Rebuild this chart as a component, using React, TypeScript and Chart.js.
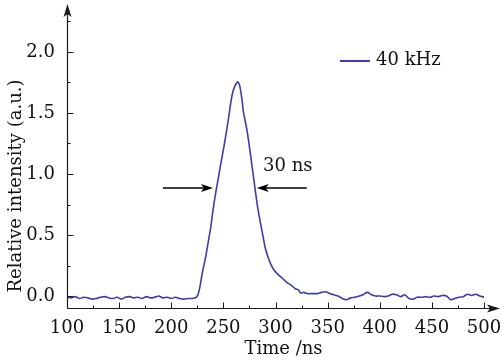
import React, { useEffect, useRef } from "react";
import { Chart, registerables } from "chart.js";

Chart.register(...registerables);

// ---------- data ----------
const timeNs: number[] = [
  100, 104, 108, 112, 116, 120, 124, 128, 132, 136, 140, 144, 148, 152, 156, 160,
  164, 168, 172, 176, 180, 184, 188, 192, 196, 200, 204, 208, 212, 216, 220,
  224, 226, 228, 230, 233, 236, 238, 240, 242.5, 245, 247, 250, 252, 255, 257,
  259, 261, 263, 264, 265, 266, 268, 269, 271, 273, 276, 278, 281, 283, 285.5,
  288, 290, 292, 295, 298, 302, 306, 311, 315, 319, 322, 324, 327, 331, 336,
  340, 344, 348, 352, 356, 360, 364, 368, 372, 376, 380, 384, 388, 392, 396,
  400, 404, 408, 412, 416, 420, 424, 428, 432, 436, 440, 444, 448, 452, 456,
  460, 464, 468, 472, 476, 480, 484, 488, 492, 496, 500,
];
const intensity: number[] = [
  -0.01, -0.015, -0.005, -0.02, -0.01, -0.015, -0.025, -0.02, -0.01, -0.005, -0.015, -0.02, -0.01, -0.025, -0.01, -0.005,
  -0.015, -0.01, -0.02, -0.005, -0.015, -0.01, 0.0, -0.015, -0.01, -0.02, -0.01, -0.02, -0.025, -0.02, -0.02,
  -0.01, 0.02, 0.1, 0.2, 0.32, 0.47, 0.57, 0.7, 0.84, 0.96, 1.06, 1.2, 1.3, 1.46, 1.58,
  1.67, 1.72, 1.75, 1.755, 1.74, 1.71, 1.6, 1.52, 1.43, 1.34, 1.16, 1.03, 0.84, 0.72, 0.6,
  0.49, 0.4, 0.34, 0.27, 0.22, 0.18, 0.15, 0.11, 0.09, 0.06, 0.05, 0.025, 0.03, 0.02, 0.02,
  0.02, 0.03, 0.035, 0.02, 0.01, 0.0, -0.02, -0.03, -0.015, -0.01, 0.0, 0.01, 0.03, 0.01, 0.0,
  0.0, -0.005, 0.0, 0.015, 0.01, -0.005, 0.01, -0.02, -0.025, -0.01, -0.01, -0.005, -0.01, 0.0, -0.005,
  0.005, 0.0, -0.03, -0.02, -0.01, -0.005, 0.015, 0.005, 0.015, 0.0, -0.01,
];
const seriesLabel = "40 kHz";

const xTickValues = [100, 150, 200, 250, 300, 350, 400, 450, 500];
const xMinorTicks = [125, 175, 225, 275, 325, 375, 425, 475];
const yTickValues = [0, 0.5, 1.0, 1.5, 2.0];
const yMinorTicks = [0.25, 0.75, 1.25, 1.75, 2.25];
const xRange = [100, 515.3];
const yRange = [-0.098, 2.393];

const xTitle = "Time /ns";
const yTitle = "Relative intensity (a.u.)";

// FWHM annotation (data coordinates)
const fwhmText = "30 ns";
const fwhmLevel = 0.885;
const fwhmLeftArrow = [192, 240];
const fwhmRightArrow = [330, 282];
const fwhmTextPos = [288, 1.06];

// ---------- styles ----------
const FONT = "DejaVu Serif";
const FONT_SIZE = 18;
const LINE_COLOR = "#3a3db4";
const AXIS_COLOR = "#1a1a1a";
const TEXT_COLOR = "#111111";

function arrowHead(ctx: CanvasRenderingContext2D, tipX: number, tipY: number, dirX: number, dirY: number, len: number, half: number, notch: number) {
  const px = -dirY;
  const py = dirX;
  const bx = tipX - dirX * len;
  const by = tipY - dirY * len;
  const nx = tipX - dirX * (len - notch);
  const ny = tipY - dirY * (len - notch);
  ctx.beginPath();
  ctx.moveTo(tipX, tipY);
  ctx.lineTo(bx + px * half, by + py * half);
  ctx.lineTo(nx, ny);
  ctx.lineTo(bx - px * half, by - py * half);
  ctx.closePath();
  ctx.fill();
}

const decorPlugin = {
  id: "decor",
  afterDraw(chart: any) {
    const ctx: CanvasRenderingContext2D = chart.ctx;
    const xs = chart.scales.x;
    const ys = chart.scales.y;
    const area = chart.chartArea;
    const x0 = Math.round(area.left) + 0.5;
    const y0 = Math.round(area.bottom) + 0.5;
    ctx.save();
    // axes lines
    ctx.strokeStyle = AXIS_COLOR;
    ctx.fillStyle = AXIS_COLOR;
    ctx.lineWidth = 1.2;
    ctx.beginPath();
    ctx.moveTo(x0, y0);
    ctx.lineTo(area.right - 6, y0);
    ctx.moveTo(x0, y0);
    ctx.lineTo(x0, area.top + 6);
    ctx.stroke();
    arrowHead(ctx, area.right, y0, 1, 0, 13, 4, 3);
    arrowHead(ctx, x0, area.top, 0, -1, 13, 4, 3);
    // ticks (inward)
    ctx.lineWidth = 1;
    ctx.beginPath();
    xTickValues.forEach((v) => {
      const px = Math.round(xs.getPixelForValue(v)) + 0.5;
      ctx.moveTo(px, y0);
      ctx.lineTo(px, y0 - 6);
    });
    xMinorTicks.forEach((v) => {
      const px = Math.round(xs.getPixelForValue(v)) + 0.5;
      ctx.moveTo(px, y0);
      ctx.lineTo(px, y0 - 3);
    });
    yTickValues.forEach((v) => {
      const py = Math.round(ys.getPixelForValue(v)) + 0.5;
      ctx.moveTo(x0, py);
      ctx.lineTo(x0 + 6, py);
    });
    yMinorTicks.forEach((v) => {
      const py = Math.round(ys.getPixelForValue(v)) + 0.5;
      ctx.moveTo(x0, py);
      ctx.lineTo(x0 + 3, py);
    });
    ctx.stroke();

    // y title
    ctx.fillStyle = TEXT_COLOR;
    ctx.font = `${FONT_SIZE}px "${FONT}"`;
    ctx.save();
    ctx.translate(16, 186);
    ctx.rotate(-Math.PI / 2);
    ctx.textAlign = "center";
    ctx.textBaseline = "middle";
    ctx.fillText(yTitle, 0, 0);
    ctx.restore();

    // legend
    const ds = chart.data.datasets[0];
    ctx.strokeStyle = ds.borderColor;
    ctx.lineWidth = 2;
    ctx.beginPath();
    ctx.moveTo(340, 61);
    ctx.lineTo(370, 61);
    ctx.stroke();
    ctx.fillStyle = TEXT_COLOR;
    ctx.textAlign = "left";
    ctx.textBaseline = "middle";
    ctx.fillText(ds.label, 376, 60);

    // FWHM annotation
    const ay = ys.getPixelForValue(fwhmLevel);
    ctx.strokeStyle = "#000";
    ctx.fillStyle = "#000";
    ctx.lineWidth = 1.5;
    const l0 = xs.getPixelForValue(fwhmLeftArrow[0]);
    const l1 = xs.getPixelForValue(fwhmLeftArrow[1]);
    const r0 = xs.getPixelForValue(fwhmRightArrow[0]);
    const r1 = xs.getPixelForValue(fwhmRightArrow[1]);
    ctx.beginPath();
    ctx.moveTo(l0, ay);
    ctx.lineTo(l1 - 6, ay);
    ctx.moveTo(r0, ay);
    ctx.lineTo(r1 + 6, ay);
    ctx.stroke();
    arrowHead(ctx, l1, ay, 1, 0, 12, 4, 3);
    arrowHead(ctx, r1, ay, -1, 0, 12, 4, 3);
    ctx.fillStyle = TEXT_COLOR;
    ctx.textAlign = "left";
    ctx.textBaseline = "middle";
    ctx.fillText(fwhmText, xs.getPixelForValue(fwhmTextPos[0]), ys.getPixelForValue(fwhmTextPos[1]));
    ctx.restore();
  },
};

export default function App() {
  const ref = useRef<HTMLCanvasElement | null>(null);
  useEffect(() => {
    if (!ref.current) return;
    Chart.defaults.font.family = FONT;
    Chart.defaults.color = TEXT_COLOR;
    const chart = new Chart(ref.current, {
      type: "line",
      data: {
        datasets: [
          {
            label: seriesLabel,
            data: timeNs.map((t, i) => ({ x: t, y: intensity[i] })),
            borderColor: LINE_COLOR,
            borderWidth: 1.6,
            pointRadius: 0,
            tension: 0.3,
            fill: false,
          },
        ],
      },
      options: {
        responsive: false,
        animation: false,
        devicePixelRatio: 1,
        layout: { padding: { top: 4, right: 2, left: 0, bottom: 0 } },
        plugins: { legend: { display: false }, tooltip: { enabled: false } },
        scales: {
          x: {
            type: "linear",
            min: xRange[0],
            max: xRange[1],
            grid: { display: false, drawTicks: false },
            border: { display: false },
            afterBuildTicks: (s: any) => {
              s.ticks = xTickValues.map((v) => ({ value: v }));
            },
            afterFit: (s: any) => {
              s.height = 55;
              s.paddingLeft = 0;
              s.paddingRight = 0;
            },
            ticks: {
              padding: 10,
              maxRotation: 0,
              autoSkip: false,
              font: { family: FONT, size: FONT_SIZE },
              color: TEXT_COLOR,
              callback: (v: any) => String(v),
            },
            title: {
              display: true,
              text: xTitle,
              font: { family: FONT, size: FONT_SIZE },
              color: TEXT_COLOR,
              padding: { top: 0, bottom: 3 },
            },
          },
          y: {
            type: "linear",
            min: yRange[0],
            max: yRange[1],
            grid: { display: false, drawTicks: false },
            border: { display: false },
            afterBuildTicks: (s: any) => {
              s.ticks = yTickValues.map((v) => ({ value: v }));
            },
            afterFit: (s: any) => {
              s.width = 67;
              s.paddingTop = 0;
              s.paddingBottom = 0;
            },
            ticks: {
              padding: 12,
              autoSkip: false,
              font: { family: FONT, size: FONT_SIZE },
              color: TEXT_COLOR,
              callback: (v: any) => Number(v).toFixed(1),
            },
          },
        },
      },
      plugins: [decorPlugin],
    });
    return () => chart.destroy();
  }, []);
  return (
    <div style={{ position: "fixed", left: 0, top: 0, width: 502, height: 363, background: "#fff" }}>
      <canvas ref={ref} width={502} height={363} style={{ display: "block" }} />
    </div>
  );
}
